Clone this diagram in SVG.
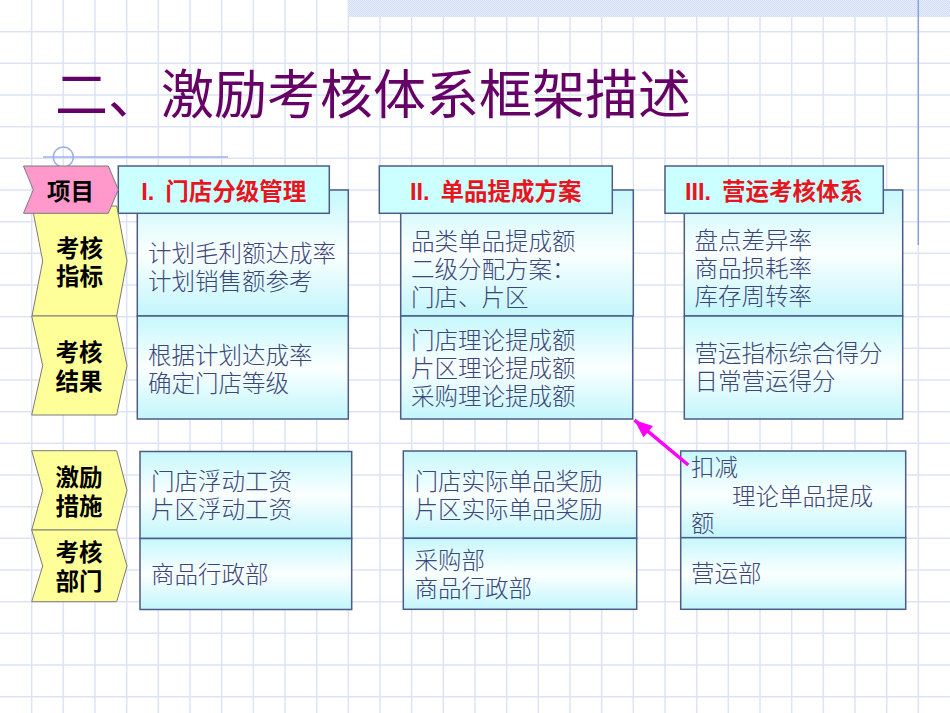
<svg xmlns="http://www.w3.org/2000/svg" width="950" height="713" viewBox="0 0 950 713">
<defs>
<style>
.grid line{stroke:#dde3f6;stroke-width:1.5}
.box{stroke:#4f5b87;stroke-width:1.5;fill:url(#cyanGrad)}
.head{stroke:#4f5b87;stroke-width:1.5;fill:#ccffff}
.chev{fill:#ffff99;stroke:#7a7a7a;stroke-width:1}
.pink{fill:#ff99cc;stroke:#7a7a7a;stroke-width:1}
.lbl{font-family:"Liberation Sans","Noto Sans CJK SC",sans-serif;font-size:23.5px;font-weight:bold;fill:#000;text-anchor:middle}
.htxt{font-family:"Liberation Sans","Noto Sans CJK SC",sans-serif;font-size:23.5px;font-weight:bold;fill:#e8141e;text-anchor:middle}
.txt{font-family:"Noto Sans CJK SC",sans-serif;font-size:23.5px;font-weight:300;fill:#3c4678}
</style>
<linearGradient id="cyanGrad" x1="0" y1="0" x2="0" y2="1">
<stop offset="0" stop-color="#c6f8fc"/>
<stop offset="0.5" stop-color="#fbffff"/>
<stop offset="1" stop-color="#c2f6fb"/>
</linearGradient>
<pattern id="dither" width="2" height="2" patternUnits="userSpaceOnUse">
<rect width="2" height="2" fill="#e6ecfc"/>
<rect width="1" height="1" fill="#d3def9"/>
<rect x="1" y="1" width="1" height="1" fill="#d3def9"/>
</pattern>
<marker id="arrowHead" markerUnits="userSpaceOnUse" markerWidth="20" markerHeight="16" refX="18" refY="7.5" orient="auto">
<path d="M0,0 L18,7.5 L0,15 Z" fill="#ff00ff"/>
</marker>
</defs>
<rect width="950" height="713" fill="#ffffff"/>
<g class="grid">
<line x1="31.67" y1="0" x2="31.67" y2="713"/><line x1="63.33" y1="0" x2="63.33" y2="713"/><line x1="95" y1="0" x2="95" y2="713"/><line x1="126.67" y1="0" x2="126.67" y2="713"/><line x1="158.33" y1="0" x2="158.33" y2="713"/><line x1="190" y1="0" x2="190" y2="713"/><line x1="221.67" y1="0" x2="221.67" y2="713"/><line x1="253.33" y1="0" x2="253.33" y2="713"/><line x1="285" y1="0" x2="285" y2="713"/><line x1="316.67" y1="0" x2="316.67" y2="713"/><line x1="348.33" y1="0" x2="348.33" y2="713"/><line x1="380" y1="0" x2="380" y2="713"/><line x1="411.67" y1="0" x2="411.67" y2="713"/><line x1="443.33" y1="0" x2="443.33" y2="713"/><line x1="475" y1="0" x2="475" y2="713"/><line x1="506.67" y1="0" x2="506.67" y2="713"/><line x1="538.33" y1="0" x2="538.33" y2="713"/><line x1="570" y1="0" x2="570" y2="713"/><line x1="601.67" y1="0" x2="601.67" y2="713"/><line x1="633.33" y1="0" x2="633.33" y2="713"/><line x1="665" y1="0" x2="665" y2="713"/><line x1="696.67" y1="0" x2="696.67" y2="713"/><line x1="728.33" y1="0" x2="728.33" y2="713"/><line x1="760" y1="0" x2="760" y2="713"/><line x1="791.67" y1="0" x2="791.67" y2="713"/><line x1="823.33" y1="0" x2="823.33" y2="713"/><line x1="855" y1="0" x2="855" y2="713"/><line x1="886.67" y1="0" x2="886.67" y2="713"/><line x1="918.33" y1="0" x2="918.33" y2="713"/>
<line x1="0" y1="31.67" x2="950" y2="31.67"/><line x1="0" y1="63.33" x2="950" y2="63.33"/><line x1="0" y1="95" x2="950" y2="95"/><line x1="0" y1="126.67" x2="950" y2="126.67"/><line x1="0" y1="158.33" x2="950" y2="158.33"/><line x1="0" y1="190" x2="950" y2="190"/><line x1="0" y1="221.67" x2="950" y2="221.67"/><line x1="0" y1="253.33" x2="950" y2="253.33"/><line x1="0" y1="285" x2="950" y2="285"/><line x1="0" y1="316.67" x2="950" y2="316.67"/><line x1="0" y1="348.33" x2="950" y2="348.33"/><line x1="0" y1="380" x2="950" y2="380"/><line x1="0" y1="411.67" x2="950" y2="411.67"/><line x1="0" y1="443.33" x2="950" y2="443.33"/><line x1="0" y1="475" x2="950" y2="475"/><line x1="0" y1="506.67" x2="950" y2="506.67"/><line x1="0" y1="538.33" x2="950" y2="538.33"/><line x1="0" y1="570" x2="950" y2="570"/><line x1="0" y1="601.67" x2="950" y2="601.67"/><line x1="0" y1="633.33" x2="950" y2="633.33"/><line x1="0" y1="665" x2="950" y2="665"/><line x1="0" y1="696.67" x2="950" y2="696.67"/>
</g>
<rect x="348" y="0" width="602" height="17" fill="url(#dither)"/>
<line x1="918.3" y1="0" x2="918.3" y2="245" stroke="#8c9fd8" stroke-width="1.5"/>
<g id="decoration" stroke="#9fb1e8" stroke-width="1.5" fill="none">
<line x1="43" y1="157" x2="228" y2="157"/>
<circle cx="63.3" cy="157" r="10"/>
</g>
<text id="title" x="55" y="114" font-family="Noto Sans CJK SC, sans-serif" font-size="53" fill="#660066">二、激励考核体系框架描述</text>

<g id="col1-indicator"><rect class="box" x="137.3" y="190" width="211" height="126"/>
<text class="txt" x="148" y="262">计划毛利额达成率</text><text class="txt" x="148" y="290">计划销售额参考</text></g>
<g id="col1-result"><rect class="box" x="137.3" y="316" width="211" height="103"/>
<text class="txt" x="148" y="364">根据计划达成率</text><text class="txt" x="148" y="392">确定门店等级</text></g>
<g id="col1-measure"><rect class="box" x="140" y="451.5" width="211.7" height="87"/>
<text class="txt" x="151" y="490">门店浮动工资</text><text class="txt" x="151" y="518">片区浮动工资</text></g>
<g id="col1-dept"><rect class="box" x="140" y="538.5" width="211.7" height="71"/>
<text class="txt" x="151" y="583">商品行政部</text></g>

<g id="col2-indicator"><rect class="box" x="400.7" y="190" width="232.6" height="126"/>
<text class="txt" x="411" y="250">品类单品提成额</text><text class="txt" x="411" y="278">二级分配方案：</text><text class="txt" x="411" y="306">门店、片区</text></g>
<g id="col2-result"><rect class="box" x="400.7" y="316" width="232" height="103"/>
<text class="txt" x="411" y="349">门店理论提成额</text><text class="txt" x="411" y="377">片区理论提成额</text><text class="txt" x="411" y="405">采购理论提成额</text></g>
<g id="col2-measure"><rect class="box" x="403.3" y="451" width="233.4" height="87.3"/>
<text class="txt" x="414.5" y="490">门店实际单品奖励</text><text class="txt" x="414.5" y="518">片区实际单品奖励</text></g>
<g id="col2-dept"><rect class="box" x="403.3" y="538.3" width="233.4" height="71"/>
<text class="txt" x="414.5" y="568.5">采购部</text><text class="txt" x="414.5" y="596.5">商品行政部</text></g>

<g id="col3-indicator"><rect class="box" x="684.3" y="190" width="218.4" height="126"/>
<text class="txt" x="694.5" y="249">盘点差异率</text><text class="txt" x="694.5" y="277">商品损耗率</text><text class="txt" x="694.5" y="305">库存周转率</text></g>
<g id="col3-result"><rect class="box" x="684.3" y="316" width="218.4" height="103"/>
<text class="txt" x="694.5" y="362">营运指标综合得分</text><text class="txt" x="694.5" y="390">日常营运得分</text></g>
<g id="col3-measure"><rect class="box" x="680.7" y="451" width="225" height="86.7"/>
<text class="txt" x="691" y="476">扣减</text><text class="txt" x="732" y="505">理论单品提成</text><text class="txt" x="691" y="532">额</text></g>
<g id="col3-dept"><rect class="box" x="680.7" y="537.7" width="225" height="71.6"/>
<text class="txt" x="691" y="582">营运部</text></g>

<g id="header1"><rect class="head" x="118.3" y="166" width="211" height="47.3"/><text class="htxt" x="223.8" y="200">I.<tspan dx="11">门店分级管理</tspan></text></g>
<g id="header2"><rect class="head" x="379.3" y="166" width="233" height="47.3"/><text class="htxt" x="495.8" y="200">II.<tspan dx="11">单品提成方案</tspan></text></g>
<g id="header3"><rect class="head" x="665" y="166" width="218.3" height="47.3"/><text class="htxt" x="774" y="200">III.<tspan dx="11">营运考核体系</tspan></text></g>

<g id="label-indicator"><polygon class="chev" points="32,206 116.7,206 127,261 116.7,316 32,316 42.7,261"/>
<text class="lbl" x="79.5" y="256.5">考核</text><text class="lbl" x="79.5" y="285">指标</text></g>
<g id="label-result"><polygon class="chev" points="31.7,316 116.7,316 127,365.5 116.7,415 31.7,415 42.7,365.5"/>
<text class="lbl" x="79" y="361">考核</text><text class="lbl" x="79" y="390">结果</text></g>
<g id="label-measure"><polygon class="chev" points="31.7,450.7 116.7,450.7 127,490.3 116.7,530 31.7,530 42.7,490.3"/>
<text class="lbl" x="79" y="486">激励</text><text class="lbl" x="79" y="515">措施</text></g>
<g id="label-dept"><polygon class="chev" points="31.7,530 116.7,530 127,566 116.7,601.7 31.7,601.7 42.7,566"/>
<text class="lbl" x="79" y="561">考核</text><text class="lbl" x="79" y="590">部门</text></g>
<g id="label-item"><polygon class="pink" points="23.5,166 108.3,166 118.3,189.7 108.3,213.3 23.5,213.3 33.3,189.7"/>
<text class="lbl" x="70.5" y="200">项目</text></g>

<g id="connectors">
<line x1="688.3" y1="465" x2="634.5" y2="420.2" stroke="#ff00ff" stroke-width="3.5" marker-end="url(#arrowHead)"/>
</g>
</svg>
